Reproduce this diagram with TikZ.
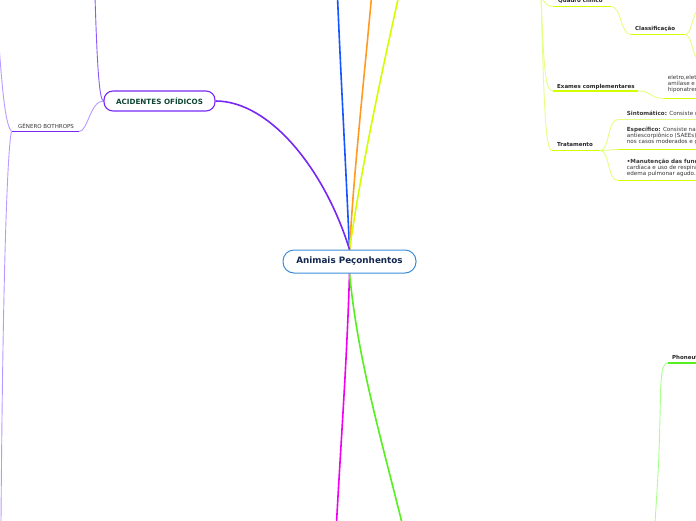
\documentclass[tikz,border=0pt]{standalone}
\usepackage{fontspec}
\setmainfont{DejaVu Sans}
\usetikzlibrary{backgrounds}
\definecolor{cpurple}{RGB}{120,40,245}
\definecolor{mpurple}{RGB}{140,90,250}
\definecolor{lpurple}{RGB}{185,155,255}
\definecolor{cblue}{RGB}{20,85,255}
\definecolor{corange}{RGB}{255,155,35}
\definecolor{cyel}{RGB}{210,255,0}
\definecolor{lyel}{RGB}{228,255,130}
\definecolor{cmag}{RGB}{240,0,240}
\definecolor{cgreen}{RGB}{85,240,30}
\definecolor{lgreen}{RGB}{170,255,140}
\definecolor{navy}{RGB}{20,40,80}
\definecolor{dgreen}{RGB}{15,70,50}
\definecolor{cborder}{RGB}{60,140,215}
\definecolor{tgray}{RGB}{55,55,55}
\tikzset{
  mainnode/.style={draw=cborder, line width=1pt, rounded corners=11pt, minimum width=133pt, minimum height=23pt, inner sep=0pt, font=\fontsize{8.8}{10}\selectfont\bfseries, text=navy, fill=white},
  acidnode/.style={draw=cpurple, line width=1.1pt, rounded corners=9pt, minimum width=111pt, minimum height=20pt, inner sep=0pt, font=\fontsize{7.2}{9}\selectfont\bfseries, text=dgreen, fill=white},
  lbl/.style={font=\fontsize{5.5}{7}\selectfont\bfseries, text=black!85, inner sep=0pt, anchor=base west},
  gbl/.style={font=\fontsize{5.5}{7}\selectfont, text=tgray, inner sep=0pt, anchor=base west},
  desc/.style={font=\fontsize{5.6}{6.2}\selectfont, text=tgray, inner sep=0pt, anchor=base west, align=left},
  mainline/.style={line width=1.6pt},
  subline/.style={line width=0.9pt},
  uline/.style={line width=1.9pt}
}
\begin{document}
\begin{tikzpicture}[x=1pt,y=-1pt]
\useasboundingbox (0,0) rectangle (696,520);
\clip (0,0) rectangle (696,520);
% nodes
\node[mainnode] (center) at (349.5,261.5) {Animais Peçonhentos};
\node[acidnode] (acid) at (159.5,101) {ACIDENTES OFÍDICOS};
% off-image coordinates
\coordinate (bl) at (337.5,-3);
\coordinate (or) at (371.5,-3);
\coordinate (ye) at (398.5,-3);
\coordinate (ma) at (336.5,523);
\coordinate (gr) at (402,523);
\coordinate (pu) at (95,-3);
\coordinate (gbL) at (11.5,131.5);
\coordinate (gbR) at (79,131.5);
\coordinate (gbUp) at (-1,45);
\coordinate (gbDn) at (1,523);
\coordinate (ysp) at (541,-3);
\coordinate (qL) at (553,6.5);
\coordinate (qR) at (611,6.5);
\coordinate (cL) at (631,34.5);
\coordinate (cR) at (685,34.5);
\coordinate (cUp) at (699,8);
\coordinate (cDn) at (699,62);
\coordinate (eL) at (553,91);
\coordinate (eR) at (638,91);
\coordinate (elL) at (664,98.5);
\coordinate (elR) at (699,98.5);
\coordinate (tL) at (552,150.5);
\coordinate (tR) at (600,150.5);
\coordinate (sL) at (618,119.5);
\coordinate (sR) at (699,119.5);
\coordinate (spL) at (618,149.5);
\coordinate (spR) at (699,149.5);
\coordinate (mL) at (618,180.5);
\coordinate (mR) at (699,180.5);
\coordinate (phL) at (668,363);
\coordinate (phR) at (699,363);
\coordinate (phDn) at (655,523);
% labels
\node[gbl] (gb) at (18,128.3) {GÊNERO BOTHROPS};
\node[lbl] (quadro) at (558,2.3) {Quadro clínico};
\node[lbl] (classif) at (635,30.3) {Classificação};
\node[lbl] (exames) at (557,88.3) {Exames complementares};
\node[lbl] (trat) at (557,146.3) {Tratamento};
\node[desc, anchor=north west] (eletro) at (667.7,74.8) {eletro,eletrólitos,\\amilase e\\hiponatremia};
\node[desc] (sint) at (626.7,115.3) {\textbf{Sintomático:} Consiste no alívio da dor};
\node[desc, anchor=north west] (espec) at (626.7,126.6) {\textbf{Específico:} Consiste na administração de soro\\antiescorpiônico (SAEEs) ou antiaracnídico\\nos casos moderados e graves.};
\node[desc, anchor=north west] (manut) at (626.7,158.4) {\textbf{•Manutenção das funções vitais:} insuficiência\\cardíaca e uso de respiradores no caso de\\edema pulmonar agudo.};
\node[lbl] (phon) at (672,359) {Phoneutria};
% connectors
\begin{scope}[on background layer]
\fill[white] (0,0) rectangle (696,520);
\draw[cblue, mainline] (center.north) .. controls (346,170) and (341,80) .. (bl);
\draw[corange, mainline] (center.north) .. controls (354,170) and (364,80) .. (or);
\draw[cyel, mainline] (center.north) .. controls (361,170) and (380,80) .. (ye);
\draw[cpurple, mainline] (center.north) .. controls (325,170) and (270,101) .. (acid.east);
\draw[cmag, mainline] (center.south) .. controls (347,360) and (341,440) .. (ma);
\draw[cgreen, mainline] (center.south) .. controls (358,360) and (379,430) .. (gr);
% purple subtree
\draw[mpurple, subline] (acid.west) .. controls (99,100) and (97,60) .. (pu);
\draw[lpurple, subline] (acid.west) .. controls (90,101) and (88,131.5) .. (gbR);
\draw[cpurple, uline] (gbL) -- (gbR);
\draw[lpurple, subline] (gbL) .. controls (6,125) and (3,100) .. (gbUp);
\draw[lpurple, subline] (gbL) .. controls (8,145) and (3,250) .. (gbDn);
% yellow subtree
\draw[lyel, subline] (ysp) .. controls (545,2) and (546,6.5) .. (qL);
\draw[lyel, subline] (ysp) .. controls (544,70) and (545,91) .. (eL);
\draw[lyel, subline] (ysp) .. controls (544,100) and (545,150.5) .. (tL);
\draw[cyel, uline] (qL) -- (qR);
\draw[lyel, subline] (qR) .. controls (622,6.5) and (620,34.5) .. (cL);
\draw[cyel, uline] (cL) -- (cR);
\draw[lyel, subline] (cR) .. controls (692,34.5) and (692,14) .. (cUp);
\draw[lyel, subline] (cR) .. controls (692,34.5) and (692,55) .. (cDn);
\draw[cyel, uline] (eL) -- (eR);
\draw[lyel, subline] (eR) .. controls (652,91) and (650,98.5) .. (elL);
\draw[cyel, uline] (elL) -- (elR);
\draw[cyel, uline] (tL) -- (tR);
\draw[lyel, subline] (tR) .. controls (610,150.5) and (607,119.5) .. (sL);
\draw[lyel, line width=1.1pt] (sL) -- (sR);
\draw[lyel, subline] (tR) .. controls (610,150.5) and (610,149.5) .. (spL);
\draw[cyel, uline] (spL) -- (spR);
\draw[lyel, subline] (tR) .. controls (610,150.5) and (607,180.5) .. (mL);
\draw[cyel, uline] (mL) -- (mR);
% green subtree
\draw[cgreen, uline] (phL) -- (phR);
\draw[lgreen, subline] (phL) .. controls (662,363) and (661,375) .. (660.5,395) .. controls (659,460) .. (phDn);
\end{scope}
\end{tikzpicture}
\end{document}
